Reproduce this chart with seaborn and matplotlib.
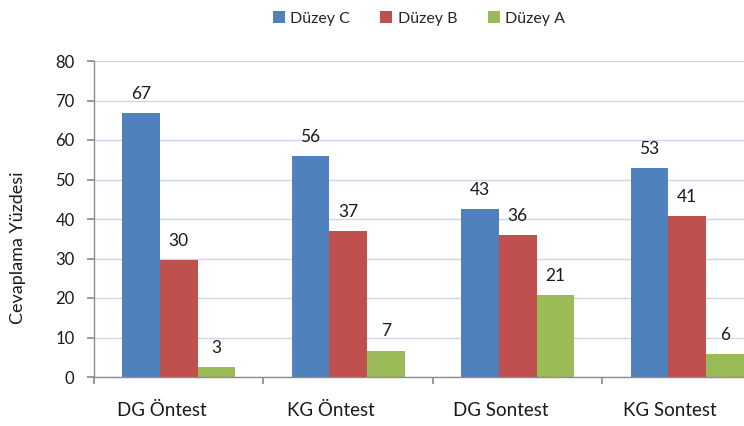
import numpy as np
import pandas as pd
import seaborn as sns
import matplotlib.pyplot as plt
from matplotlib.patches import Patch

# --- data ---
groups = ["DG Öntest", "KG Öntest", "DG Sontest", "KG Sontest"]
levels = ["Düzey C", "Düzey B", "Düzey A"]
duzey_c = [66.8, 56.0, 42.6, 52.9]
duzey_b = [29.6, 37.0, 35.9, 40.8]
duzey_a = [2.6, 6.7, 20.8, 5.8]
colors = ["#4F81BD", "#C0504D", "#9BBB59"]

df = pd.DataFrame({
    "grup": groups * 3,
    "duzey": np.repeat(levels, len(groups)),
    "yuzde": duzey_c + duzey_b + duzey_a,
})

sns.set_theme(style="white")
plt.rcParams["font.family"] = ["Lato", "DejaVu Sans"]

fig = plt.figure(figsize=(7.44, 4.26), dpi=100)
ax = fig.add_axes([94 / 744, 49 / 426, 650 / 744, 316 / 426])

sns.barplot(data=df, x="grup", y="yuzde", hue="duzey", order=groups,
            hue_order=levels, palette=colors, width=0.667, gap=0,
            saturation=1, linewidth=0, legend=False, ax=ax)

for cont in ax.containers:
    ax.bar_label(cont, fmt="%.0f", padding=8, fontsize=12.5, color="#1a1a1a")

ax.set_ylim(0, 80)
ax.set_yticks(range(0, 81, 10))
ax.set_xlim(-0.5, 3.335)
ax.grid(axis="y", color="#C9D7EC", linewidth=1)
ax.set_axisbelow(True)

for s in ["top", "right"]:
    ax.spines[s].set_visible(False)
for s in ["left", "bottom"]:
    ax.spines[s].set_color("#8C8C8C")
    ax.spines[s].set_linewidth(1)

# category boundary ticks (major) and labels slightly left of centre (minor)
ax.set_xticks([i - 0.5 for i in range(len(groups))])
ax.set_xticklabels([])
ax.set_xticks([i - 0.1 for i in range(len(groups))], labels=groups, minor=True)
ax.tick_params(axis="x", which="major", length=5, color="#8C8C8C", bottom=True)
ax.tick_params(axis="x", which="minor", length=0, pad=18, labelsize=13.5,
               labelcolor="#1a1a1a")
ax.tick_params(axis="y", length=5, color="#8C8C8C", left=True, labelsize=12,
               labelcolor="#1a1a1a", pad=9)

ax.set_xlabel("")
ax.set_ylabel("Cevaplama Yüzdesi", fontsize=13, color="#1a1a1a")
ax.yaxis.set_label_coords(-0.105, 0.41)

handles = [Patch(facecolor=c, edgecolor="none") for c in colors]
ax.legend(handles, levels, loc="center", bbox_to_anchor=(0.5, 1.135), ncol=3,
          frameon=False, fontsize=11.5, handlelength=0.75, handleheight=0.75,
          handletextpad=0.35, columnspacing=1.9)

fig.savefig("out.png", dpi=100)
